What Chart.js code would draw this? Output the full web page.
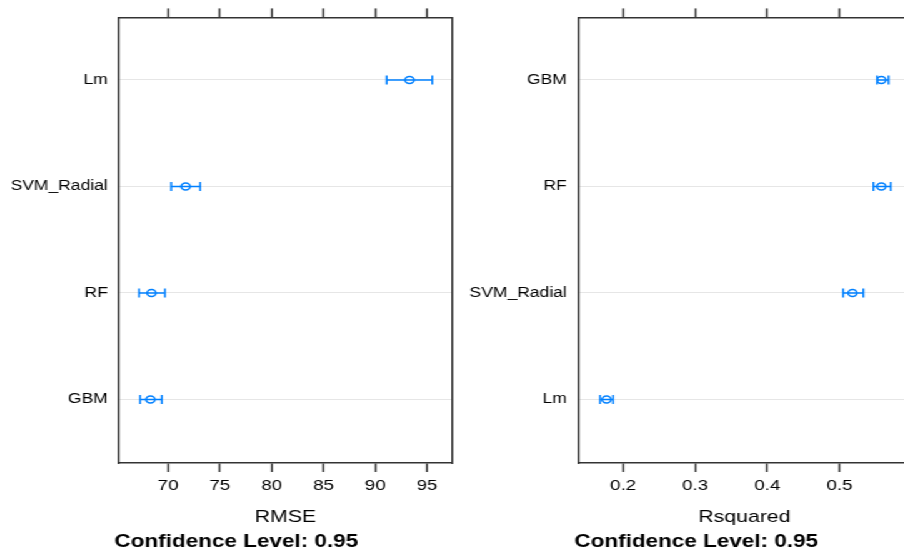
<!DOCTYPE html>
<html lang="en">
<head>
<meta charset="UTF-8" />
<title>Model comparison</title>
<script src="https://cdn.jsdelivr.net/npm/chart.js@4.4.1/dist/chart.umd.min.js"></script>
<style>
	html, body { margin:0; padding:0; background:#fff; overflow:hidden; }
	#wrap { position:relative; width:760px; height:553px; transform:scaleX(1.25); transform-origin:0 0; }
	#c_rmse { position:absolute; left:0; top:0; }
	#c_rsq { position:absolute; left:360px; top:0; }
</style>
</head>
<body>
<div id="wrap">
	<canvas id="c_rmse" width="378" height="553"></canvas>
	<canvas id="c_rsq" width="394" height="553"></canvas>
</div>
<script>
// rows listed bottom to top
const rmseModels = ['GBM', 'RF', 'SVM_Radial', 'Lm'];
const rmseMean  = [68.3, 68.4, 71.7, 93.3];
const rmseLower = [67.3, 67.2, 70.3, 91.1];
const rmseUpper = [69.4, 69.7, 73.1, 95.5];

const rsqModels = ['Lm', 'SVM_Radial', 'RF', 'GBM'];
const rsqMean  = [0.177, 0.518, 0.558, 0.558];
const rsqLower = [0.168, 0.505, 0.547, 0.552];
const rsqUpper = [0.186, 0.533, 0.571, 0.568];

const blue = '#0080ff';
const frame = '#333333';
Chart.defaults.font.family = '"Liberation Sans", Arial, sans-serif';
Chart.defaults.color = '#000';

function makePanel(canvas, models, mean, lower, upper, xTitle, xMin, xMax, step, yAxisW, rightW)
{
	let datasets = [];
	for (let i = 0; i < models.length; i++)
	{
		datasets.push({
			data: [{x: lower[i], y: i + 1}, {x: upper[i], y: i + 1}],
			showLine: true,
			borderColor: blue,
			borderWidth: 1.5,
			pointStyle: 'line',
			pointRotation: 90,
			pointRadius: 4.5,
			pointBorderColor: blue,
			pointBorderWidth: 1.5
		});
	}
	datasets.push({
		data: mean.map((v, i) => ({x: v, y: i + 1})),
		pointStyle: 'circle',
		pointRadius: 3.5,
		pointBorderColor: blue,
		pointBackgroundColor: 'rgba(0,0,0,0)',
		pointBorderWidth: 1.5
	});

	const yMin = 0.403, yMax = 4.587;
	const rowTicks = (s) => { s.ticks = models.map((m, i) => ({value: i + 1})); };

	return new Chart(canvas, {
		type: 'scatter',
		data: {datasets: datasets},
		options: {
			responsive: false,
			animation: false,
			layout: {padding: 0},
			plugins: {
				legend: {display: false},
				tooltip: {enabled: false},
				title: {
					display: true,
					position: 'bottom',
					text: 'Confidence Level: 0.95',
					font: {size: 18, weight: 'bold'},
					color: '#000',
					padding: {top: 0, bottom: 0}
				}
			},
			scales: {
				x: {
					type: 'linear', position: 'bottom', min: xMin, max: xMax,
					ticks: {stepSize: step, includeBounds: false, padding: 5, font: {size: 15}, color: '#000'},
					grid: {drawOnChartArea: false, tickLength: 9, tickColor: frame, tickWidth: 1.5},
					border: {color: frame, width: 1.5},
					title: {display: true, text: xTitle, font: {size: 17}, color: '#000', padding: {top: 0, bottom: 4}},
					afterFit: (s) => { s.height = 68.4; }
				},
				x2: {
					type: 'linear', position: 'top', min: xMin, max: xMax,
					ticks: {display: false, stepSize: step, includeBounds: false},
					grid: {drawOnChartArea: false, tickLength: 9, tickColor: frame, tickWidth: 1.5},
					border: {color: frame, width: 1.5},
					afterFit: (s) => { s.height = 14; }
				},
				y: {
					type: 'linear', position: 'left', min: yMin, max: yMax,
					afterBuildTicks: rowTicks,
					ticks: {callback: (v) => models[v - 1], padding: 9, font: {size: 14}, color: '#000'},
					grid: {color: '#e6e6e6', lineWidth: 1, drawTicks: false},
					border: {color: frame, width: 1.5},
					afterFit: (s) => { s.width = yAxisW; }
				},
				y2: {
					type: 'linear', position: 'right', min: yMin, max: yMax,
					ticks: {display: false},
					grid: {display: false},
					border: {color: frame, width: 1.5},
					afterFit: (s) => { s.width = rightW; }
				}
			}
		}
	});
}

makePanel(document.getElementById('c_rmse'), rmseModels, rmseMean, rmseLower, rmseUpper,
	'RMSE', 65.27, 97.41, 5, 95.2, 16.4);
makePanel(document.getElementById('c_rsq'), rsqModels, rsqMean, rsqLower, rsqUpper,
	'Rsquared', 0.1375, 0.599, 0.1, 102.4, 25.2);
</script>
</body>
</html>
